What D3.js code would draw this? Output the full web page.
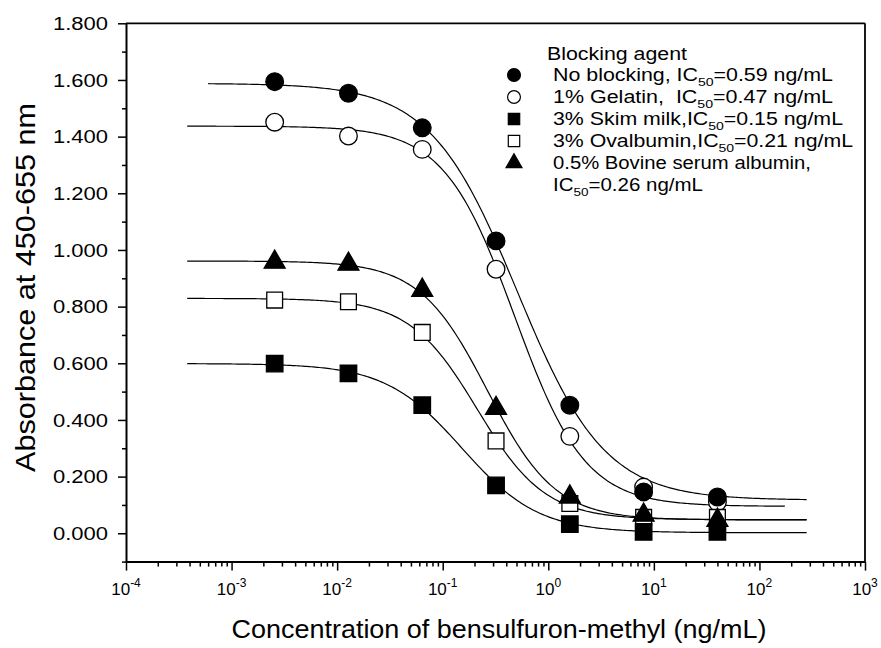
<!DOCTYPE html>
<meta charset="utf-8">
<script src="https://d3js.org/d3.v7.min.js"></script>
<style>
body { margin: 0; background: #fff; }
text { font-family: "Liberation Sans", Arial, sans-serif; fill: #000; white-space: pre; }
.axis path, .axis line { stroke: #000; }
.curve { fill: none; stroke: #000; stroke-width: 1.2; }
</style>
<div id="chart"></div>
<script>

// concentrations (ng/mL), 5-fold dilutions
var conc = [0.00256, 0.0128, 0.064, 0.32, 1.6, 8, 40];

// absorbance
var noBlocking = [1.594, 1.553, 1.431, 1.032, 0.452, 0.146, 0.128];
var gelatin    = [1.451, 1.402, 1.355, 0.932, 0.342, 0.163, 0.110];
var skimMilk   = [0.599, 0.564, 0.452, 0.169, 0.032, 0.005, 0.005];
var ovalbumin  = [0.823, 0.817, 0.709, 0.326, 0.105, 0.056, 0.056];
var bsa        = [0.957, 0.950, 0.858, 0.441, 0.128, 0.064, 0.046];

// four-parameter logistic fits (top, bottom, midpoint, slope) and drawn range
var fitTop    = [1.588, 1.437, 0.599, 0.829, 0.961];
var fitBottom = [0.117, 0.095, 0.002, 0.048, 0.047];
var fitMid    = [0.51, 0.48, 0.152, 0.212, 0.265];
var fitSlope  = [1.05, 1.3, 1.2, 1.35, 1.35];
var fitFrom   = [0.0006, 0.00038, 0.00038, 0.00038, 0.00038];
var fitTo     = [280, 174, 280, 280, 280];

var legendTitle = "Blocking agent";
var legendLines = [
  ["No blocking, IC", "50", "=0.59 ng/mL"],
  ["1% Gelatin,  IC", "50", "=0.47 ng/mL"],
  ["3% Skim milk,IC", "50", "=0.15 ng/mL"],
  ["3% Ovalbumin,IC", "50", "=0.21 ng/mL"],
  ["0.5% Bovine serum albumin,"],
  ["IC", "50", "=0.26 ng/mL"]
];
var legendWidths = [280, 280, 290, 300, 258, 150];

var yMajor = [0, 0.2, 0.4, 0.6, 0.8, 1.0, 1.2, 1.4, 1.6, 1.8];
var yMinor = [-0.1, 0.1, 0.3, 0.5, 0.7, 0.9, 1.1, 1.3, 1.5, 1.7];
var xExp = [-4, -3, -2, -1, 0, 1, 2, 3];

var allSeries = [noBlocking, gelatin, skimMilk, ovalbumin, bsa];
var symTypes = [d3.symbolCircle, d3.symbolCircle, d3.symbolSquare, d3.symbolSquare, d3.symbolTriangle];
var symFill = ["#000", "#fff", "#000", "#fff", "#000"];
var symSize = [245, 245, 272, 250, 190];
var drawOrder = [1, 3, 0, 2, 4];

var width = 881, height = 648;

var svg = d3.select("#chart")
  .append("svg")
    .attr("width", width)
    .attr("height", height);

var x = d3.scaleLog()
  .domain([1e-4, 1e3])
  .range([126, 865]);

var y = d3.scaleLinear()
  .domain([-0.1, 1.8])
  .range([561.6, 23.3]);

// frame top and right
svg.append("line")
  .attr("x1", x(1e-4)).attr("x2", x(1e3))
  .attr("y1", y(1.8)).attr("y2", y(1.8))
  .attr("stroke", "#000").attr("stroke-width", 1.8);
svg.append("line")
  .attr("x1", x(1e3)).attr("x2", x(1e3))
  .attr("y1", y(1.8)).attr("y2", y(-0.1))
  .attr("stroke", "#000").attr("stroke-width", 1.8);

// y axis
svg.append("g")
  .attr("class", "axis")
  .attr("transform", "translate(" + x(1e-4) + ",0)")
  .call(d3.axisLeft(y).tickValues(yMinor).tickSize(4).tickSizeOuter(0).tickFormat(""))
  .call(function(g) { g.select(".domain").remove(); })
  .call(function(g) { g.selectAll("line").attr("stroke-width", 1.5); });

svg.append("g")
  .attr("class", "axis")
  .attr("transform", "translate(" + x(1e-4) + ",0)")
  .call(d3.axisLeft(y).tickValues(yMajor).tickSize(8).tickSizeOuter(0).tickFormat(d3.format(".3f")))
  .call(function(g) { g.select(".domain").attr("stroke-width", 2); })
  .call(function(g) { g.selectAll("line").attr("stroke-width", 1.5); })
  .call(function(g) {
    g.selectAll("text")
      .style("font-family", "'Liberation Sans', Arial, sans-serif")
      .style("font-size", "18px")
      .attr("x", -18)
      .attr("dy", "0.34em")
      .attr("textLength", 55)
      .attr("lengthAdjust", "spacingAndGlyphs");
  });

// x axis
var xMinor = [];
xExp.slice(0, -1).forEach(function(e) {
  for (var k = 2; k <= 9; k++) xMinor.push(k * Math.pow(10, e));
});

svg.append("g")
  .attr("class", "axis")
  .attr("transform", "translate(0," + y(-0.1) + ")")
  .call(d3.axisBottom(x).tickValues(xMinor).tickSize(5).tickSizeOuter(0).tickFormat(""))
  .call(function(g) { g.select(".domain").remove(); })
  .call(function(g) { g.selectAll("line").attr("stroke-width", 1.5); });

svg.append("g")
  .attr("class", "axis")
  .attr("transform", "translate(0," + y(-0.1) + ")")
  .call(d3.axisBottom(x).tickValues(xExp.map(function(e) { return Math.pow(10, e); }))
    .tickSize(9).tickSizeOuter(0).tickFormat(""))
  .call(function(g) { g.select(".domain").attr("stroke-width", 2); })
  .call(function(g) { g.selectAll("line").attr("stroke-width", 1.5); });

var xLab = svg.append("g")
  .selectAll("text")
  .data(xExp)
  .enter()
  .append("text")
    .attr("x", function(e) { return x(Math.pow(10, e)); })
    .attr("y", 595)
    .attr("text-anchor", "middle")
    .style("font-size", "17px");
xLab.append("tspan").text("10");
xLab.append("tspan")
  .style("font-size", "12px")
  .attr("dy", -8)
  .text(function(e) { return e; });

// axis titles
svg.append("text")
  .attr("x", 499)
  .attr("y", 638)
  .attr("text-anchor", "middle")
  .style("font-size", "26px")
  .attr("textLength", 535)
  .attr("lengthAdjust", "spacingAndGlyphs")
  .text("Concentration of bensulfuron-methyl (ng/mL)");

svg.append("text")
  .attr("transform", "translate(35,287.5) rotate(-90)")
  .attr("text-anchor", "middle")
  .style("font-size", "28px")
  .attr("textLength", 369)
  .attr("lengthAdjust", "spacingAndGlyphs")
  .text("Absorbance at 450-655 nm");

// fitted curves
var line = d3.line()
  .x(function(d) { return x(d[0]); })
  .y(function(d) { return y(d[1]); });

allSeries.forEach(function(s, i) {
  var lo = Math.log10(fitFrom[i]), hi = Math.log10(fitTo[i]);
  var pts = d3.range(0, 301).map(function(k) {
    var c = Math.pow(10, lo + (hi - lo) * k / 300);
    var v = fitBottom[i] + (fitTop[i] - fitBottom[i]) / (1 + Math.pow(c / fitMid[i], fitSlope[i]));
    return [c, v];
  });
  svg.append("path")
    .attr("class", "curve")
    .attr("d", line(pts));
});

// data points
drawOrder.forEach(function(i) {
  svg.append("g")
    .selectAll("path")
    .data(allSeries[i])
    .enter()
    .append("path")
      .attr("transform", function(d, j) { return "translate(" + x(conc[j]) + "," + y(d) + ")"; })
      .attr("d", d3.symbol().type(symTypes[i]).size(symSize[i]))
      .attr("fill", symFill[i])
      .attr("stroke", "#000")
      .attr("stroke-width", 1.3);
});

// legend
svg.append("text")
  .attr("x", 547)
  .attr("y", 60)
  .style("font-size", "17.5px")
  .attr("textLength", 140)
  .attr("lengthAdjust", "spacingAndGlyphs")
  .text(legendTitle);

var rowY = [81, 103, 125, 147, 169, 191];

var rows = svg.append("g")
  .selectAll("text")
  .data(legendLines)
  .enter()
  .append("text")
    .attr("x", 553)
    .attr("y", function(d, i) { return rowY[i]; })
    .style("font-size", "17.5px")
    .attr("textLength", function(d, i) { return legendWidths[i]; })
    .attr("lengthAdjust", "spacingAndGlyphs");

rows.each(function(parts) {
  var t = d3.select(this);
  t.append("tspan").text(parts[0]);
  if (parts.length > 1) {
    t.append("tspan").style("font-size", "11.5px").attr("dy", 5).text(parts[1]);
    t.append("tspan").attr("dy", -5).text(parts[2]);
  }
});

symTypes.forEach(function(type, i) {
  svg.append("path")
    .attr("transform", "translate(514," + (rowY[i] - 6) + ")")
    .attr("d", d3.symbol().type(type).size(i < 4 ? 130 : 110))
    .attr("fill", symFill[i])
    .attr("stroke", "#000")
    .attr("stroke-width", 1.2);
});

</script>
